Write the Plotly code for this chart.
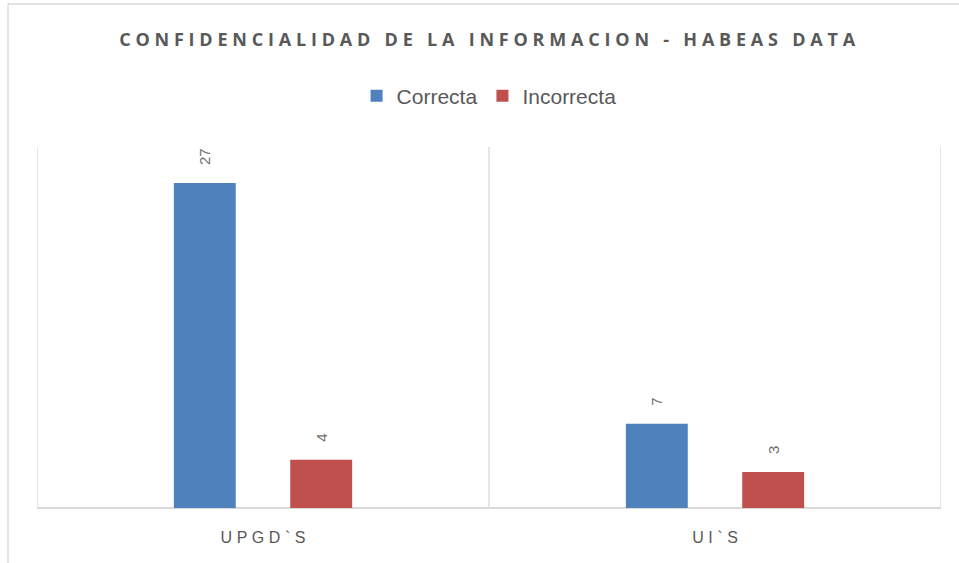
import plotly.graph_objects as go

categories = ["UPGD`S", "UI`S"]
correcta = [27, 7]
incorrecta = [4, 3]
series_names = ["Correcta", "Incorrecta"]
title_text = "CONFIDENCIALIDAD DE LA INFORMACION - HABEAS DATA"

W, H = 959, 563
ML, MR, MT, MB = 37, 18, 147, 55

def spaced(s, sep="\u2009"):
    return sep.join(list(s))

cat_labels = [spaced(c, "\u2009\u200a") for c in categories]

GRAY = "#595959"
fig = go.Figure()
for name, vals, col in [(series_names[0], correcta, "#4F81BD"),
                        (series_names[1], incorrecta, "#C0504D")]:
    fig.add_trace(go.Bar(
        name=name, x=cat_labels, y=vals, marker=dict(color=col, line=dict(width=0)),
        text=["\u2003" + str(v) for v in vals], textposition="outside", textangle=-90,
        textfont=dict(family="Liberation Sans", size=15, color="#6f6f6f"),
        cliponaxis=False,
    ))

# vertical category separators
for xv in [-0.5, 0.5, 1.5]:
    fig.add_shape(type="line", xref="x", yref="paper", x0=xv, x1=xv, y0=0, y1=1,
                  line=dict(color="#D9D9D9", width=1.3), layer="below")

pw = W - ML - MR
ph = H - MT - MB
# outer chart border (left and top), in paper units
lx = (8 - ML) / pw
ty = (H - MB - 4) / ph
fig.add_shape(type="line", xref="paper", yref="paper", x0=lx, x1=lx, y0=-MB / ph - 0.01, y1=ty,
              line=dict(color="#D9D9D9", width=1.3))
fig.add_shape(type="line", xref="paper", yref="paper", x0=lx, x1=(W - ML) / pw + 0.01, y0=ty, y1=ty,
              line=dict(color="#D9D9D9", width=1.3))

fig.update_layout(
    width=W, height=H,
    margin=dict(l=ML, r=MR, t=MT, b=MB),
    paper_bgcolor="white", plot_bgcolor="white",
    barmode="group", bargap=0.485, bargroupgap=0.468,
    title=dict(text="<b>" + spaced(title_text, "\u2009\u200a") + "</b>", x=0.508, xanchor="center",
               y=1 - 40 / H, yanchor="middle", yref="container",
               font=dict(family="Open Sans", size=18, color=GRAY)),
    legend=dict(orientation="h", x=0.51, xanchor="center", xref="container",
                y=1 - 96 / H, yanchor="middle", yref="container",
                font=dict(family="Liberation Sans", size=21, color=GRAY),
                itemwidth=30, traceorder="normal"),
    showlegend=True,
    xaxis=dict(range=[-0.5, 1.5], showgrid=False, showline=False, zeroline=False,
               ticks="", ticklabelstandoff=18,
               tickfont=dict(family="Liberation Sans", size=16, color=GRAY)),
    yaxis=dict(range=[0, 30], showgrid=False, showticklabels=False, zeroline=True,
               zerolinecolor="#D9D9D9", zerolinewidth=1.5, showline=False),
    font=dict(family="Liberation Sans", color=GRAY),
)

fig.write_html("out.html", config={"displayModeBar": False},
               post_script="document.body.style.margin='0';")
